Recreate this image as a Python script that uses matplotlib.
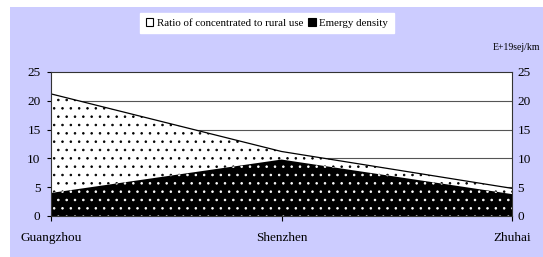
import matplotlib
matplotlib.use("Agg")
import matplotlib.pyplot as plt
from matplotlib.patches import Patch, Rectangle

plt.rcParams['font.family'] = ['Liberation Serif', 'DejaVu Serif']
plt.rcParams['hatch.linewidth'] = 0.6

cities = ["Guangzhou", "Shenzhen", "Zhuhai"]
ratio = [21.2, 11.2, 4.8]
emergy = [4.0, 9.8, 3.8]
yticks = [0, 5, 10, 15, 20, 25]
legend_labels = ["Ratio of concentrated to rural use", "Emergy density"]
unit_label = "E+19sej/km"

W, H = 543, 257
fig = plt.figure(figsize=(W / 100, H / 100), dpi=100)
fig.patch.set_facecolor('white')
fig.patches.append(Rectangle((10 / W, 0), 1 - 10 / W, (H - 7) / H,
                             transform=fig.transFigure, facecolor='#CCCCFF',
                             edgecolor='none', zorder=-10))

ax = fig.add_axes([51 / W, (H - 216) / H, (512 - 51) / W, (216 - 72) / H])
ax.set_facecolor('white')
x = list(range(len(cities)))

for yv in yticks[1:-1]:
    ax.axhline(yv, color='#555555', lw=0.8, zorder=0)

ax.fill_between(x, ratio, facecolor='white', edgecolor='black', hatch='..',
                lw=0, zorder=1)
ax.fill_between(x, emergy, facecolor='black', edgecolor='white', hatch='..',
                lw=0, zorder=2)
ax.plot(x, ratio, color='black', lw=0.9, zorder=3)

ax.set_xlim(0, len(cities) - 1)
ax.set_ylim(0, 25)
ax.set_yticks(yticks)
ax.set_yticklabels([str(v) for v in yticks])
ax.set_xticks(x)
ax.set_xticklabels(cities)
ax.tick_params(axis='y', direction='out', length=3, width=0.8, labelsize=9.5,
               left=True, right=False, labelleft=True, labelright=False, pad=4.5)
ax.tick_params(axis='x', direction='out', length=3.5, width=0.8, labelsize=9.5,
               pad=8)
for s in ax.spines.values():
    s.set_linewidth(0.8)
    s.set_color('#333333')
    s.set_zorder(4)

ax2 = ax.twinx()
ax2.set_ylim(0, 25)
ax2.set_yticks(yticks)
ax2.set_yticklabels([str(v) for v in yticks])
ax2.tick_params(axis='y', length=0, labelsize=9.5, pad=4)
for s in ax2.spines.values():
    s.set_visible(False)

fig.legend(handles=[Patch(facecolor='white', edgecolor='black', lw=0.8),
                    Patch(facecolor='black', edgecolor='black', lw=0.8)],
           labels=legend_labels, ncol=2, loc='center',
           bbox_to_anchor=(267 / W, 1 - 23 / H), frameon=True, fancybox=False,
           facecolor='white', edgecolor='white', framealpha=1,
           fontsize=7.8, handlelength=0.7, handleheight=0.7,
           handletextpad=0.3, columnspacing=0.5, borderpad=0.5,
           borderaxespad=0)

fig.text(493 / W, 1 - 47 / H, unit_label, fontsize=7, va='center', ha='left')

fig.savefig("out.png", dpi=100)
